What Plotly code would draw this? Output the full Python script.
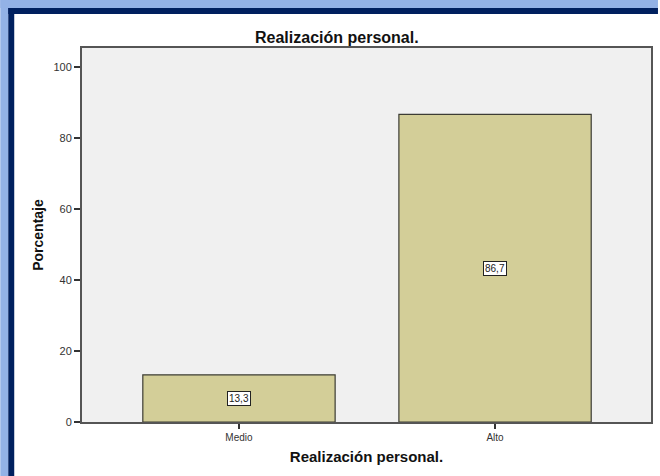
import plotly.graph_objects as go

# Data
categories = ["Medio", "Alto"]
percentages = [13.3, 86.7]
value_labels = ["13,3", "86,7"]
y_ticks = [0, 20, 40, 60, 80, 100]

W, H = 660, 476
L, R, T, B = 82, 7, 48, 54
pw, ph = W - L - R, H - T - B


def px_x(x):
    return (x - L) / pw


def px_y(y):
    return (H - B - y) / ph


fig = go.Figure()
fig.add_trace(go.Bar(
    x=[0, 1],
    y=percentages,
    width=0.751,
    marker=dict(color="#D3CE98", line=dict(color="#3C3C34", width=1.2)),
    hoverinfo="skip",
))

# value labels in small boxes at mid-height of each bar
annotations = []
for i, (v, lab) in enumerate(zip(percentages, value_labels)):
    annotations.append(dict(
        x=i, y=v / 2, xref="x", yref="y", text=lab, showarrow=False,
        font=dict(family="Liberation Sans, Arial", size=10, color="#222"),
        bgcolor="white", bordercolor="#222", borderwidth=1, borderpad=1,
    ))

# chart title, centred over the white page area
annotations.append(dict(
    x=px_x(338), y=px_y(38), xref="paper", yref="paper",
    text="<b>Realización personal.</b>", showarrow=False,
    font=dict(family="Liberation Sans, Arial", size=16, color="#111"),
    xanchor="center", yanchor="middle",
))

# blue window frame along the top and left edges
shapes = [
    dict(type="rect", xref="paper", yref="paper", x0=px_x(0), x1=px_x(W),
         y0=px_y(0), y1=px_y(8), fillcolor="#93B2E6", line=dict(width=0), layer="above"),
    dict(type="rect", xref="paper", yref="paper", x0=px_x(0), x1=px_x(8),
         y0=px_y(0), y1=px_y(H), fillcolor="#93B2E6", line=dict(width=0), layer="above"),
    dict(type="rect", xref="paper", yref="paper", x0=px_x(8), x1=px_x(W),
         y0=px_y(8), y1=px_y(14), fillcolor="#00205F", line=dict(width=0), layer="above"),
    dict(type="rect", xref="paper", yref="paper", x0=px_x(8), x1=px_x(14),
         y0=px_y(8), y1=px_y(H), fillcolor="#00205F", line=dict(width=0), layer="above"),
]

fig.update_layout(
    width=W, height=H,
    margin=dict(l=L, r=R, t=T, b=B),
    paper_bgcolor="white",
    plot_bgcolor="#F0F0F0",
    showlegend=False,
    font=dict(family="Liberation Sans, Arial", size=10, color="#333"),
    annotations=annotations,
    shapes=shapes,
    xaxis=dict(
        range=[-0.613, 1.609],
        tickmode="array", tickvals=[0, 1], ticktext=categories,
        ticks="outside", ticklen=5, tickcolor="#333", tickwidth=1.5,
        tickfont=dict(size=10, color="#333"),
        showgrid=False, zeroline=False,
        showline=True, linecolor="#555", linewidth=2, mirror=True,
        title=dict(text="<b>Realización personal.</b>",
                   font=dict(size=15, color="#111"), standoff=9),
    ),
    yaxis=dict(
        range=[0, 105.4],
        tickmode="array", tickvals=y_ticks,
        ticks="outside", ticklen=6, tickcolor="#333", tickwidth=1.5,
        tickfont=dict(size=11, color="#333"),
        showgrid=False, zeroline=False,
        showline=True, linecolor="#555", linewidth=2, mirror=True,
        title=dict(text="<b>Porcentaje</b>",
                   font=dict(size=14, color="#111"), standoff=7),
    ),
)

fig.write_html("out.html")
